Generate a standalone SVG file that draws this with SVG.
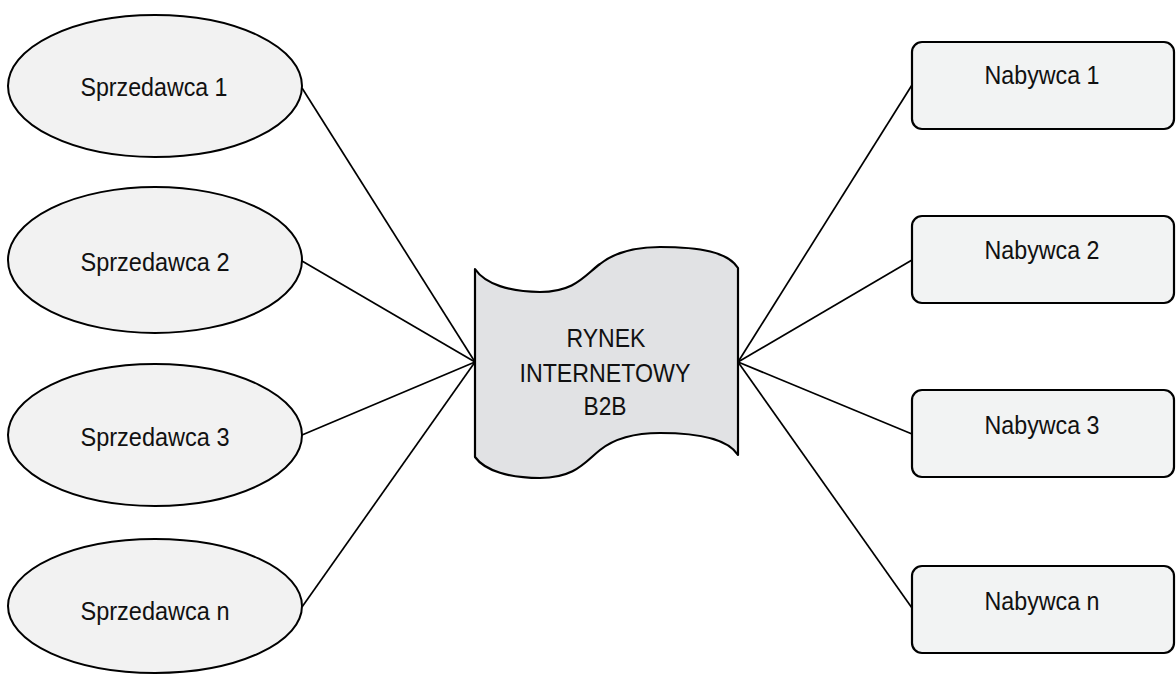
<svg xmlns="http://www.w3.org/2000/svg" width="1176" height="676" viewBox="0 0 1176 676">
  <style>
    .seller { fill: #f2f2f2; stroke: #000; stroke-width: 2; }
    .buyer { fill: #f2f3f3; stroke: #000; stroke-width: 2.2; }
    .market { fill: #e1e2e4; stroke: #000; stroke-width: 2.2; stroke-linejoin: round; }
    .link { stroke: #000; stroke-width: 1.7; fill: none; }
    .lbl { font-family: "Liberation Sans", Arial, sans-serif; font-size: 26px; fill: #111; text-anchor: middle; }
  </style>
  <rect width="1176" height="676" fill="#fff"/>

  <g id="connectors">
    <line class="link" x1="302" y1="88" x2="475" y2="362"/>
    <line class="link" x1="302" y1="261" x2="475" y2="362"/>
    <line class="link" x1="302" y1="435" x2="475" y2="362"/>
    <line class="link" x1="302" y1="607" x2="475" y2="362"/>
    <line class="link" x1="738" y1="362" x2="912" y2="85"/>
    <line class="link" x1="738" y1="362" x2="912" y2="260"/>
    <line class="link" x1="738" y1="362" x2="912" y2="434"/>
    <line class="link" x1="738" y1="362" x2="912" y2="608"/>
  </g>

  <g id="seller-1">
    <ellipse class="seller" cx="155" cy="86" rx="147" ry="71"/>
    <text class="lbl" x="154" y="96" textLength="147" lengthAdjust="spacingAndGlyphs">Sprzedawca 1</text>
  </g>
  <g id="seller-2">
    <ellipse class="seller" cx="155" cy="260" rx="147" ry="73"/>
    <text class="lbl" x="155" y="271" textLength="149" lengthAdjust="spacingAndGlyphs">Sprzedawca 2</text>
  </g>
  <g id="seller-3">
    <ellipse class="seller" cx="155" cy="435" rx="147" ry="71"/>
    <text class="lbl" x="155" y="446" textLength="149" lengthAdjust="spacingAndGlyphs">Sprzedawca 3</text>
  </g>
  <g id="seller-n">
    <ellipse class="seller" cx="155" cy="606" rx="147" ry="67"/>
    <text class="lbl" x="155" y="620" textLength="149" lengthAdjust="spacingAndGlyphs">Sprzedawca n</text>
  </g>

  <g id="market">
    <path class="market" d="M475,269 C485,284 510,292 540,292 C575,292 585,275 600,264 C615,252 635,247 660,247 C700,247 728,252 738,268 L738,455 C728,439 700,433 660,433 C635,433 615,438 600,450 C585,462 575,478 540,478 C510,478 485,471 475,457 Z"/>
    <text class="lbl" x="606" y="347" textLength="79" lengthAdjust="spacingAndGlyphs">RYNEK</text>
    <text class="lbl" x="605" y="382" textLength="171" lengthAdjust="spacingAndGlyphs">INTERNETOWY</text>
    <text class="lbl" x="605" y="415" textLength="43" lengthAdjust="spacingAndGlyphs">B2B</text>
  </g>

  <g id="buyer-1">
    <rect class="buyer" x="912" y="42" width="262" height="87" rx="10"/>
    <text class="lbl" x="1042" y="84" textLength="115" lengthAdjust="spacingAndGlyphs">Nabywca 1</text>
  </g>
  <g id="buyer-2">
    <rect class="buyer" x="912" y="216" width="262" height="87" rx="10"/>
    <text class="lbl" x="1042" y="259" textLength="115" lengthAdjust="spacingAndGlyphs">Nabywca 2</text>
  </g>
  <g id="buyer-3">
    <rect class="buyer" x="912" y="390" width="262" height="87" rx="10"/>
    <text class="lbl" x="1042" y="434" textLength="115" lengthAdjust="spacingAndGlyphs">Nabywca 3</text>
  </g>
  <g id="buyer-n">
    <rect class="buyer" x="912" y="566" width="262" height="87" rx="10"/>
    <text class="lbl" x="1042" y="610" textLength="115" lengthAdjust="spacingAndGlyphs">Nabywca n</text>
  </g>
</svg>
